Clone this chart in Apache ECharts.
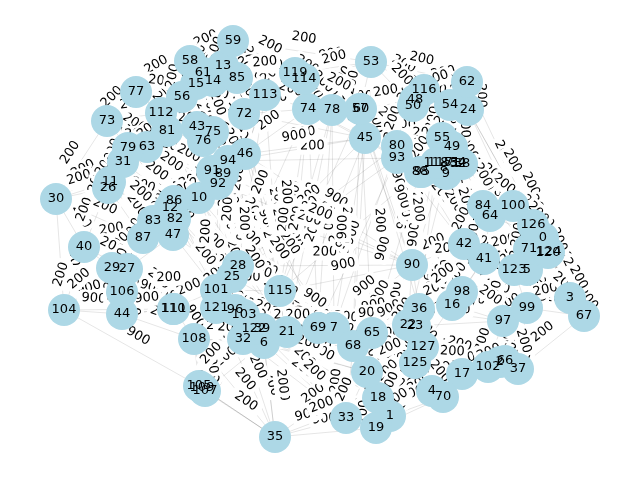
<!DOCTYPE html>
<html>
<head>
<meta charset="utf-8">
<script src="https://cdn.jsdelivr.net/npm/echarts@6/dist/echarts.min.js"></script>
<style>html,body{margin:0;padding:0;background:#fff}#c{width:640px;height:480px}</style>
</head>
<body>
<div id="c"></div>
<script>
// node layout positions (in image units); node id = index
const nodeX = [543,390,500,570,432,527,264,334,444,446,
199,110,170,223,213,196,452,462,378,376,
367,287,408,415,468,232,108,127,238,112,
56,123,243,346,458,275,419,518,462,262,
84,484,464,197,122,365,245,173,415,452,
413,452,458,371,450,442,182,360,190,233,
361,203,467,147,490,372,505,584,353,318,
443,529,244,107,308,213,203,136,332,128,
397,167,175,153,483,237,174,143,420,223,
412,212,218,397,228,422,235,503,462,527,
513,216,488,244,64,199,122,205,194,202,
173,174,161,265,304,280,424,440,436,295,
548,216,254,514,549,415,533,423];
const nodeY = [238,416,362,298,391,270,343,328,168,174,
198,182,208,66,81,84,305,374,398,428,
372,332,325,326,110,277,188,269,266,268,
199,162,339,418,163,437,309,369,164,329,
247,259,244,127,314,138,154,235,100,147,
106,163,164,62,105,138,97,109,61,41,
109,73,82,147,216,333,361,316,346,328,
397,249,114,121,109,132,141,92,110,148,
146,131,219,221,206,78,201,238,172,174,
265,171,184,158,161,172,310,321,292,308,
206,290,367,315,310,386,292,391,339,388,
309,309,113,95,79,291,90,163,163,73,
253,308,329,270,252,363,225,347];

// edges: [source, target, weight]
const edgeList = [
[30,73,200],[30,40,200],[30,104,200],[30,26,200],[30,31,200],[30,11,200],
[73,77,200],[73,79,200],[73,63,200],[73,31,200],
[77,58,200],[77,112,200],[77,56,200],
[59,58,200],[59,13,200],[59,53,200],[59,85,200],[59,119,200],
[58,15,200],[58,61,200],
[53,119,900],[53,114,200],[53,116,200],[53,78,900],[53,62,200],
[62,116,200],[62,54,200],[62,24,200],[62,3,200],
[24,54,200],[24,49,200],[24,67,200],[24,100,200],
[3,67,200],[3,124,200],[3,99,200],[3,0,200],
[67,37,200],[67,120,200],[67,126,200],
[37,102,200],[37,66,200],[37,99,200],[37,17,200],
[19,33,200],[19,1,200],[19,35,900],[19,70,200],
[35,33,900],[35,105,200],[35,107,200],[35,32,200],[35,6,200],[35,108,200],[35,121,200],
[105,107,200],[105,109,200],[104,105,900],[105,108,200],
[104,40,200],[104,106,900],[104,44,900],[104,29,200],
[40,29,200],[40,87,200],[40,11,200],
[11,26,200],[26,31,200],[31,79,200],[79,63,200],[63,81,200],[81,112,200],[112,56,200],[56,15,900],[15,61,200],[61,14,200],[14,13,200],[13,85,200],[85,113,200],[113,72,200],[72,75,200],[75,43,200],[43,76,200],[76,81,200],[46,94,200],[94,89,200],[89,91,200],[91,92,200],[92,10,200],[10,86,200],[86,12,200],[12,82,200],[82,83,200],[83,87,200],[87,47,200],[47,82,200],[27,29,200],[27,106,200],[106,44,200],[44,110,200],[110,111,200],[111,108,900],[101,121,200],[121,96,200],[96,103,200],[103,32,200],[32,122,200],[122,39,200],[39,6,200],[6,21,200],[21,115,200],[115,28,200],[28,25,200],[25,101,200],
[31,11,200],[26,83,200],[79,91,200],[63,43,200],[112,43,200],[81,75,200],[56,76,200],[14,72,200],[15,43,200],[61,85,200],[76,94,200],[91,10,200],[92,46,200],[86,47,200],[83,27,200],[87,29,200],[47,25,200],[12,96,200],[10,103,200],[92,121,200],[82,101,200],[106,110,900],[44,108,200],[27,110,200],[110,101,200],[29,106,200],[26,87,200],[11,63,200],[31,12,200],[79,86,200],
[46,45,200],[46,74,200],[72,74,900],[74,78,200],[78,57,200],[57,60,200],[60,45,200],[45,80,200],[80,93,200],[93,88,200],[88,95,200],[95,9,200],[9,8,200],[8,118,200],[118,117,200],[117,51,200],[51,34,200],[34,52,200],[52,38,200],[38,49,200],[49,55,200],[55,50,200],[50,48,200],[48,116,200],[116,54,200],[54,55,200],
[113,119,200],[119,114,200],[114,74,900],[113,46,200],[85,114,200],[119,74,200],[114,78,900],[114,57,200],[78,45,900],[74,45,200],[57,50,900],[60,48,200],[45,55,200],[80,49,200],[93,9,200],[88,117,200],[95,55,200],[50,116,200],[48,54,200],
[94,93,200],[89,90,200],[92,115,200],[10,28,200],[12,25,200],[28,90,200],[25,69,200],[115,69,200],[21,69,200],[69,7,200],[7,65,200],[65,68,200],[68,20,200],[20,18,200],[18,1,200],[1,33,200],[33,68,200],[20,125,200],[125,127,200],[127,22,200],[22,23,200],[23,36,200],[36,16,200],[16,98,200],[98,41,200],[41,42,200],[42,84,200],[84,64,200],[64,100,200],[100,126,200],[126,0,200],[0,71,200],[71,120,200],[120,124,200],[124,5,200],[5,123,200],[123,41,200],[123,99,200],[99,97,200],[97,16,200],[97,102,200],[102,66,200],[66,2,200],[2,17,200],[17,70,200],[70,4,200],[4,125,200],[4,1,200],[17,127,200],
[90,22,900],[90,36,900],[90,115,900],[90,98,200],[90,42,200],[90,7,900],[90,65,900],[93,42,200],[88,84,200],[9,64,200],[38,100,200],[34,84,200],[80,90,200],[45,28,200],[78,115,200],[74,28,200],[57,90,900],[60,93,200],[75,46,200],[91,28,200],[89,115,200],[94,45,900],[86,101,200],[49,84,200],[55,42,200],[24,126,200],[50,80,200],[48,93,200],[117,64,200],[118,42,200],[51,41,200],[52,71,200],
[32,33,200],[6,20,200],[21,68,200],[39,35,200],[122,18,200],[103,33,200],[108,32,200],[107,6,200],[109,35,200],[121,6,200],[7,36,900],[65,22,900],[68,127,200],[20,4,200],[18,70,200],[1,17,200],[33,125,200],[69,65,200],[21,7,200],[115,7,900],[28,69,200],[101,32,200],[96,39,200],[122,21,200],
[16,41,200],[98,99,200],[42,64,200],[84,100,200],[41,5,200],[36,97,200],[23,16,200],[127,102,200],[125,17,200],[2,37,200],[99,67,200],[97,66,200],[123,71,200],[0,124,200],[126,5,200],[22,98,200],[4,102,200],
[43,28,200],[76,115,200],[81,10,200],[112,46,200],[56,72,200],[15,75,200],[61,113,200],[13,72,200],[58,56,200],[77,81,200],[73,112,200],[63,92,200],[79,10,200],[31,86,200],[26,12,200],[11,83,200],[30,87,200],[40,27,200],[29,44,200],[87,106,200],[47,101,200],[82,25,200],[83,47,200],[86,92,200],[12,10,200],[10,89,200],[91,46,200],[94,72,200],[46,113,200],[75,94,200],[43,91,200],[76,89,200],
[46,90,900],[94,115,900],[89,28,200],[92,25,200],[10,115,200],[72,45,200],[113,74,200],[85,119,200],[74,93,900],[78,80,900],[45,93,200],[57,45,200],[60,80,200],[80,88,200],[93,95,200],[88,42,200],[95,90,900],[9,42,200],[8,84,200],[118,90,900],[117,42,200],[51,64,200],[34,100,200],[52,126,200],[38,84,200],[49,64,200],[55,88,200],[50,93,200],[48,80,200],[116,49,200],[54,49,200],[24,55,200],[62,48,200],[53,50,200],[53,57,200],[119,78,200],[114,60,200],
[28,21,200],[25,115,200],[101,115,200],[121,69,200],[96,21,200],[103,6,200],[122,69,200],[39,7,200],[6,68,200],[21,65,200],[69,68,200],[7,22,900],[65,36,900],[68,125,200],[20,127,200],[18,125,200],[1,125,200],[33,20,200],[19,18,200],[35,20,200],[35,18,200],[33,6,200],[32,20,200],[108,6,200],[107,32,200],[109,108,200],[105,32,200],[104,110,900],[44,111,900],[106,101,200],[27,47,200],
[90,16,900],[90,41,200],[36,98,200],[16,42,200],[98,5,200],[41,71,200],[42,100,200],[84,126,200],[64,0,200],[100,0,200],[126,71,200],[71,124,200],[5,99,200],[123,97,200],[99,3,200],[97,98,200],[102,17,200],[66,37,200],[2,102,200],[17,4,200],[70,125,200],[127,16,200],[22,36,200],[23,97,200],[36,41,200],[125,102,200],[1,70,200],[19,4,200],[67,5,200],[3,120,200],[124,67,200],[37,97,200],[64,41,200],[84,42,200],
[72,115,200],[46,69,200],[94,21,200],[89,7,200],[92,69,200],[10,21,200],[74,115,200],[78,69,200],[45,7,200],[57,65,200],[60,115,200],[80,28,200],[93,25,200],[88,115,200],[45,68,200],[78,7,200],[74,69,200],[113,28,200],[72,25,200],[46,28,200],[94,25,200],[89,101,200],[93,69,900],[80,7,900],[88,65,900],[9,22,900],[8,90,900],[118,36,900],[57,68,900],[60,36,900],[45,90,900],[93,90,200],[46,115,200],[72,21,200],[113,115,200],[74,21,200],[78,21,200],[45,21,200],[10,90,200],[92,90,200]
];

const nodes = nodeX.map((x, i) => ({ name: String(i), value: [x, nodeY[i]] }));
const links = edgeList.map(e => ({ source: String(e[0]), target: String(e[1]), value: e[2] }));

const chart = echarts.init(document.getElementById('c'), null, { renderer: 'canvas' });
chart.setOption({
  animation: false,
  backgroundColor: '#ffffff',
  grid: { left: 0, right: 0, top: 0, bottom: 0 },
  xAxis: { type: 'value', min: 0, max: 640, show: false },
  yAxis: { type: 'value', min: 0, max: 480, inverse: true, show: false },
  series: [{
    type: 'graph',
    coordinateSystem: 'cartesian2d',
    layout: 'none',
    z: 2,
    symbol: 'circle',
    symbolSize: 2,
    itemStyle: { opacity: 0 },
    label: { show: false },
    lineStyle: { color: 'rgba(0,0,0,0.1)', width: 1, opacity: 1, curveness: 0 },
    edgeLabel: {
      show: true, position: 'middle', formatter: '{c}', opacity: 1,
      color: '#000', fontFamily: 'DejaVu Sans', fontSize: 13,
      backgroundColor: '#ffffff', padding: [2, 3], borderRadius: 4
    },
    emphasis: { disabled: true },
    data: nodes,
    links: links
  }, {
    type: 'scatter',
    z: 10,
    symbol: 'circle',
    symbolSize: 32,
    itemStyle: { color: '#add8e6', opacity: 1 },
    label: { show: true, position: 'inside', color: '#000', fontFamily: 'DejaVu Sans', fontSize: 13, formatter: '{b}' },
    emphasis: { disabled: true },
    data: nodes
  }]
});
</script>
</body>
</html>
